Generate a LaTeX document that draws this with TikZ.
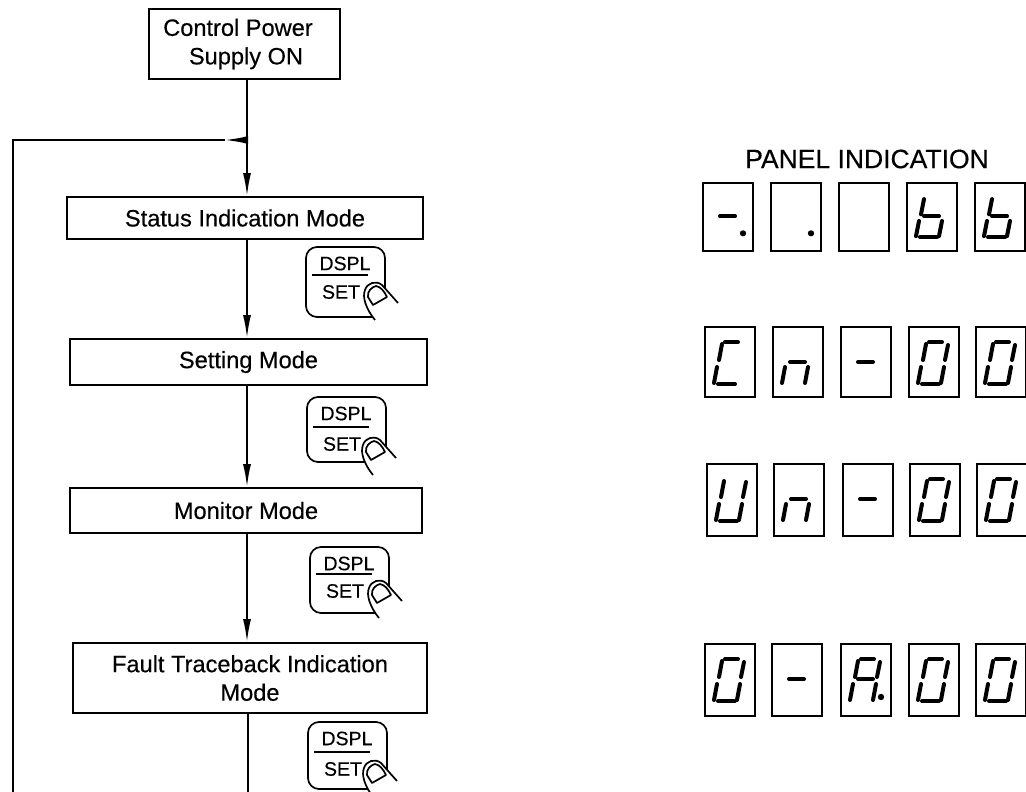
\documentclass[tikz,border=0pt]{standalone}
\usepackage{fontspec}
\setmainfont[FakeBold=0.35]{Liberation Sans}
\usetikzlibrary{arrows.meta}
\tikzset{
  x=1pt,y=-1pt,
  modebox/.style={draw,line width=1.8pt,align=center,inner sep=0pt,font=\fontsize{23.6}{28.5}\selectfont},
  flow/.style={draw,line width=1.8pt},
  tip/.style={-{Latex[length=23pt,width=8pt]}},
  digitbox/.style={draw,line width=1.9pt,inner sep=0pt,anchor=north west},
  seg/.style={line width=4pt,line cap=round},
  keybox/.style={draw,line width=1.7pt,rounded corners=11pt},
  keytext/.style={inner sep=0pt,font=\fontsize{19.5}{20}\selectfont},
  panel/.style={inner sep=0pt,font=\fontsize{26.5}{28}\selectfont}
}
\newcommand{\segA}{\draw[seg] (21,16)--(34,16);}
\newcommand{\segB}{\draw[seg] (40,19)--(37,34);}
\newcommand{\segC}{\draw[seg] (36,41)--(33,57);}
\newcommand{\segD}{\draw[seg] (14,58)--(31,58);}
\newcommand{\segE}{\draw[seg] (13,41)--(10,57);}
\newcommand{\segF}{\draw[seg] (18,18)--(15,34);}
\newcommand{\segG}{\draw[seg] (18,36)--(33,36);}
\newcommand{\segP}{\fill (41,54) circle (3.2pt);}
% \digit{x}{y}{height}{y-scale}{segments}
\newcommand{\digit}[5]{%
  \node[digitbox,minimum width=50pt,minimum height=#3pt] (d#1x#2) at (#1,#2) {};
  \begin{scope}[shift={(#1,#2)},yscale=#4]
    \foreach \s in {#5} {\csname seg\s\endcsname}
  \end{scope}
}
% \keyicon{x}{y}{height}{rule y}{finger dx}{finger dy}
\newcommand{\keyicon}[6]{%
  \begin{scope}[shift={(#1,#2)}]
  \draw[keybox] (0,0) rectangle (79,#3);
  \node[keytext] (kd#2) at (39,16.5) {DSPL};
  \draw[line width=1.7pt] (6,#4)--(62,#4);
  \node[keytext] (ks#2) at (35,#4+17) {SET};
  \begin{scope}[shift={(#5,#6)}]
  \fill[white] (69,73) .. controls (60,62) and (56,50) .. (59,43) .. controls (61,36) and (70,33) .. (76,38) -- (92,56) -- (92,80) -- (69,80) -- cycle;
  \draw[line width=1.7pt,line join=round] (69,73) .. controls (60,62) and (56,50) .. (59,43) .. controls (61,36) and (70,33) .. (76,38) -- (92,56);
  \draw[line width=1.7pt,line join=round] (62,50) -- (67,58) -- (81,50) .. controls (78,44) and (75,40) .. (70,39) .. controls (66,40) and (61,44) .. (62,50) -- cycle;
  \end{scope}
  \end{scope}
}
\begin{document}
\begin{tikzpicture}
\useasboundingbox (0,0) rectangle (1026,792);
\node[modebox,minimum width=191pt,minimum height=70pt] (power) at (244.5,44) {Control Power\hspace*{13pt}\\\hspace*{3pt}Supply ON};
\node[modebox,minimum width=356pt,minimum height=42pt] (status) at (245,218) {Status Indication Mode};
\node[modebox,minimum width=357pt,minimum height=46pt] (setting) at (248.5,362) {Setting Mode};
\node[modebox,minimum width=352pt,minimum height=45pt] (monitor) at (246,510.5) {Monitor Mode};
\node[modebox,minimum width=354pt,minimum height=70pt] (fault) at (250,678) {Fault Traceback Indication\\Mode};
\coordinate (join) at (247,140);
\coordinate (mid) at (225,140);
\coordinate (corner) at (13,140);
\coordinate (leftend) at (13,792);
\coordinate (bottom) at (248,792);
\draw[flow] (power.south -| join) -- (join);
\draw[flow,tip] (join) -- (status.north -| join);
\draw[flow,tip] (join) -- (mid);
\draw[flow] (mid) -- (corner) -- (leftend);
\draw[flow,tip] (status.south -| join) -- (setting.north -| join);
\draw[flow,tip] (setting.south -| join) -- (monitor.north -| join);
\draw[flow,tip] (monitor.south -| join) -- (fault.north -| join);
\draw[flow] (fault.south -| bottom) -- (bottom);
\keyicon{306}{247}{70}{28}{0}{0}
\keyicon{307}{397}{65}{30}{-3}{5}
\keyicon{310}{547}{66}{27}{0}{-2}
\keyicon{308}{722}{67}{30}{-3}{3}
\node[panel] (title) at (867,159) {PANEL INDICATION};
\digit{702}{182}{68}{0.95}{G,P}
\digit{770}{182}{68}{0.95}{P}
\digit{838}{182}{68}{0.95}{}
\digit{906}{182}{68}{0.95}{F,G,C,D,E}
\digit{974}{182}{68}{0.95}{F,G,C,D,E}
\digit{704}{326}{70}{1}{A,F,E,D}
\digit{772}{326}{70}{1}{G,E,C}
\digit{840}{326}{70}{1}{G}
\digit{908}{326}{70}{1}{A,B,C,D,E,F}
\digit{975}{326}{70}{1}{A,B,C,D,E,F}
\digit{706}{463}{72}{1}{B,C,D,E,F}
\digit{773}{463}{72}{1}{G,E,C}
\digit{842}{463}{72}{1}{G}
\digit{909}{463}{72}{1}{A,B,C,D,E,F}
\digit{976}{463}{72}{1}{A,B,C,D,E,F}
\digit{704}{643}{72}{1}{A,B,C,D,E,F}
\digit{771}{643}{72}{1}{G}
\digit{840}{643}{72}{1}{A,B,C,E,F,G,P}
\digit{908}{643}{72}{1}{A,B,C,D,E,F}
\digit{975}{643}{72}{1}{A,B,C,D,E,F}
\end{tikzpicture}
\end{document}
